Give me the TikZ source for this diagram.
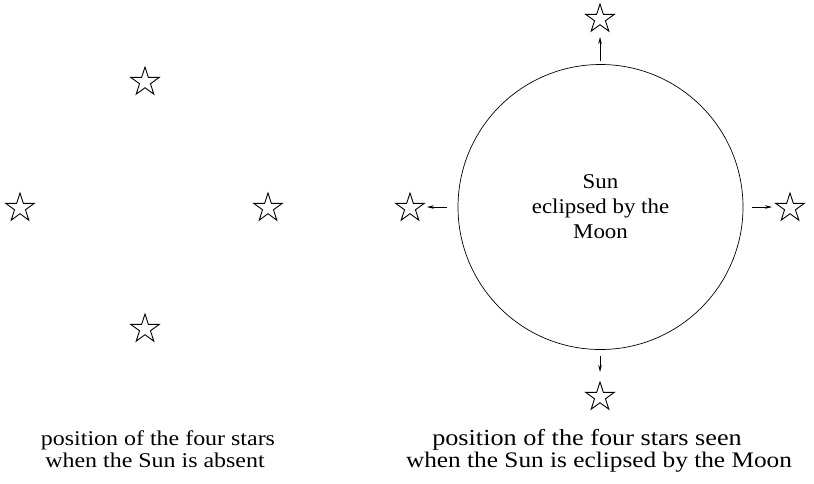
\documentclass[tikz,border=0pt]{standalone}
\usepackage{fontspec}
\setmainfont{Liberation Serif}
\newfontfamily\capfont{Liberation Serif}[FakeStretch=1.14]
\newfontfamily\sunfont{Liberation Serif}[FakeStretch=1.09]
\usetikzlibrary{shapes.geometric,arrows.meta}
\begin{document}
\begin{tikzpicture}[x=1pt,y=-1pt,
  starnode/.style={star,star points=5,star point ratio=2.618,minimum size=30pt,inner sep=0pt,draw,line width=0.9pt},
  suntxt/.style={font=\sunfont\fontsize{21}{25}\selectfont,inner sep=0pt},
  lcap/.style={font=\capfont\fontsize{21}{25}\selectfont,inner sep=0pt,anchor=base},
  rcap/.style={font=\capfont\fontsize{23}{25}\selectfont,inner sep=0pt,anchor=base},
  arr/.style={-{Stealth[length=7pt,width=3.5pt]},line width=0.6pt}]
\useasboundingbox (0,0) rectangle (814,483);
% left: stars without the Sun
\node[starnode] (a1) at (145,82) {};
\node[starnode] (a2) at (20,208) {};
\node[starnode] (a3) at (268,208) {};
\node[starnode] (a4) at (145,329) {};
% right: Sun eclipsed
\node[draw,circle,minimum size=285pt,inner sep=0pt,line width=0.7pt] (sun) at (600.5,207) {};
\node[suntxt,align=center] (sunlabel) at (600.5,207) {Sun\\eclipsed by the\\Moon};
\node[starnode] (b1) at (600,19) {};
\node[starnode] (b2) at (410,208) {};
\node[starnode] (b3) at (790,208) {};
\node[starnode] (b4) at (600,397) {};
\coordinate (t0) at (600,61); \coordinate (t1) at (600,37);
\coordinate (d0) at (600,356); \coordinate (d1) at (600,372);
\coordinate (l0) at (447,207); \coordinate (l1) at (427,207);
\coordinate (r0) at (752,207); \coordinate (r1) at (772,207);
\draw[arr] (t0) -- (t1);
\draw[arr] (d0) -- (d1);
\draw[arr] (l0) -- (l1);
\draw[arr] (r0) -- (r1);
% captions
\node[lcap] (c1) at (158,445) {position of the four stars};
\node[lcap] (c2) at (155,467) {when the Sun is absent};
\node[rcap] (c3) at (587,445) {position of the four stars seen};
\node[rcap,font=\capfont\fontsize{22.2}{25}\selectfont] (c4) at (599,467) {when the Sun is eclipsed by the Moon};
\end{tikzpicture}
\end{document}
